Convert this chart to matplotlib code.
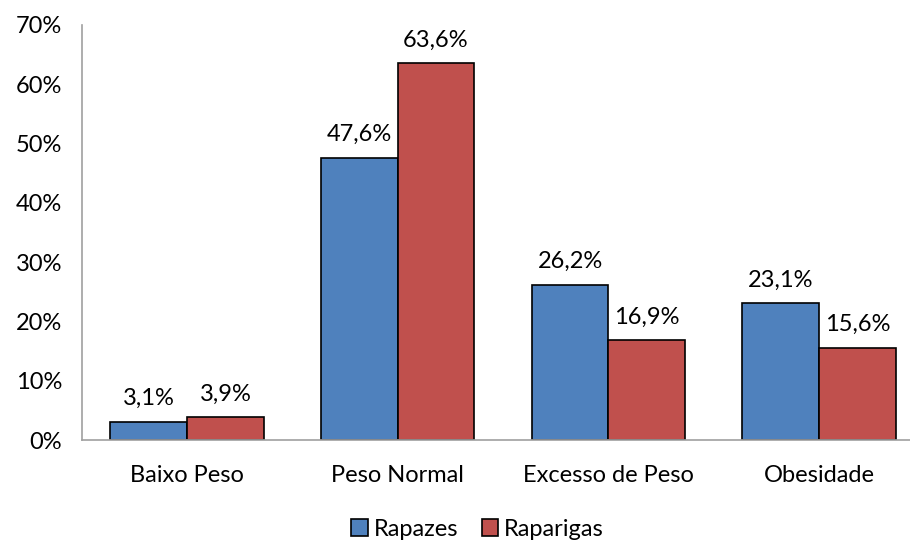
import matplotlib
matplotlib.use('Agg')
import matplotlib.pyplot as plt
import numpy as np

categorias = ['Baixo Peso', 'Peso Normal', 'Excesso de Peso', 'Obesidade']
rapazes = [3.1, 47.6, 26.2, 23.1]
raparigas = [3.9, 63.6, 16.9, 15.6]
yticks = [0, 10, 20, 30, 40, 50, 60, 70]

plt.rcParams['font.family'] = ['Lato', 'DejaVu Sans']

fig = plt.figure(figsize=(9.1, 5.42), dpi=100)
ax = fig.add_axes([0.0898, 0.188, 0.926, 0.766])

x = np.arange(len(categorias))
w = 0.364

b1 = ax.bar(x - w / 2, rapazes, w, color='#4F81BD', edgecolor='black', linewidth=1.2, label='Rapazes')
b2 = ax.bar(x + w / 2, raparigas, w, color='#C0504D', edgecolor='black', linewidth=1.2, label='Raparigas')

# rótulos com vírgula decimal
for barras, vals in ((b1, rapazes), (b2, raparigas)):
    for b, v in zip(barras, vals):
        ax.annotate(('%.1f%%' % v).replace('.', ','),
                    (b.get_x() + b.get_width() / 2, v),
                    xytext=(0, 9), textcoords='offset points',
                    ha='center', va='bottom', fontsize=17)

ax.set_xlim(-0.5, len(categorias) - 0.5)
ax.set_ylim(0, 70)
ax.set_yticks(yticks)
ax.set_yticklabels(['%d%%' % t for t in yticks], fontsize=17)
ax.set_xticks(x)
ax.set_xticklabels(categorias, fontsize=17)
ax.tick_params(axis='y', length=0, pad=14)
ax.tick_params(axis='x', length=0, pad=18)

for s in ('top', 'right'):
    ax.spines[s].set_visible(False)
for s in ('left', 'bottom'):
    ax.spines[s].set_color('#A0A0A0')
    ax.spines[s].set_linewidth(1.2)

fig.legend(handles=[b1, b2], loc='lower center', bbox_to_anchor=(0.525, -0.035),
           ncol=2, frameon=False, fontsize=17, handlelength=0.7, handleheight=0.7,
           handletextpad=0.25, columnspacing=1.0)

fig.savefig('out.png', dpi=100)
